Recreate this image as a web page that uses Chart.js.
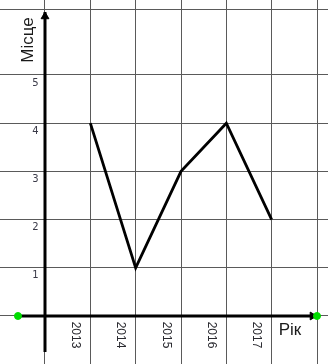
<!DOCTYPE html>
<html>
<head>
<meta charset="utf-8">
<script src="https://cdn.jsdelivr.net/npm/chart.js@4.4.1/dist/chart.umd.min.js"></script>
<style>
html,body{margin:0;padding:0;background:#fff;}
#wrap{width:328px;height:364px;}
</style>
</head>
<body>
<div id="wrap"><canvas id="c" width="328" height="364"></canvas></div>
<script>
// Data
const years = [2013, 2014, 2015, 2016, 2017];
const places = [4, 1, 3, 4, 2];
const yTickLabels = [1, 2, 3, 4, 5];
const xAxisTitle = 'Рік';
const yAxisTitle = 'Місце';

// axis geometry (in data units)
const originX = 2012;
const xGrid = [2012, 2013, 2014, 2015, 2016, 2017, 2018];
const yGrid = [0, 1, 2, 3, 4, 5, 6.35];

const lineData = years.map((y, i) => ({x: y, y: places[i]}));

const labelsPlugin = {
  id: 'labels',
  afterDraw(chart) {
    const ctx = chart.ctx;
    const xs = chart.scales.x, ys = chart.scales.y;
    const ox = xs.getPixelForValue(originX);
    const oy = ys.getPixelForValue(0);
    ctx.save();
    // y tick labels
    ctx.fillStyle = '#3a3a48';
    ctx.font = '10px "DejaVu Sans"';
    ctx.textAlign = 'center';
    ctx.textBaseline = 'middle';
    yTickLabels.forEach(v => {
      ctx.fillText(String(v), ox - 9.5, ys.getPixelForValue(v) + 8);
    });
    // x tick labels rotated clockwise
    ctx.font = '12px "Liberation Sans"';
    ctx.fillStyle = '#2a2a30';
    years.forEach(yr => {
      const px = xs.getPixelForValue(yr) - 15;
      ctx.save();
      ctx.translate(px, oy + 19);
      ctx.rotate(Math.PI / 2);
      ctx.textAlign = 'center';
      ctx.textBaseline = 'middle';
      ctx.fillText(String(yr), 0, 0);
      ctx.restore();
    });
    // axis titles
    ctx.fillStyle = '#1a1a1a';
    ctx.font = '17px "Liberation Sans"';
    ctx.save();
    ctx.translate(ox - 12, 40);
    ctx.rotate(-Math.PI / 2);
    ctx.textAlign = 'center';
    ctx.textBaseline = 'alphabetic';
    ctx.fillText(yAxisTitle, 0, 0);
    ctx.restore();
    ctx.textAlign = 'left';
    ctx.textBaseline = 'alphabetic';
    ctx.fillText(xAxisTitle, xs.getPixelForValue(2017) + 7, oy + 19);
    ctx.restore();
  }
};

new Chart(document.getElementById('c'), {
  type: 'line',
  data: {
    datasets: [
      {
        data: lineData,
        borderColor: '#000',
        borderWidth: 2.8,
        pointRadius: 0,
        tension: 0,
        fill: false,
        borderJoinStyle: 'miter'
      },
      {
        // y axis line with arrow
        data: [{x: originX, y: -0.747}, {x: originX, y: 6.214}, {x: originX, y: 6.307}],
        borderColor: '#000',
        borderWidth: 3,
        pointStyle: 'triangle',
        pointRadius: [0, 4.5, 0],
        pointBackgroundColor: '#000',
        pointBorderColor: '#000',
        pointBorderWidth: 1,
        fill: false
      },
      {
        // x axis line with arrow and end dots
        data: [{x: 2011.404, y: 0}, {x: 2017.9, y: 0}, {x: 2018, y: 0}],
        borderColor: '#000',
        borderWidth: 3,
        pointStyle: ['circle', 'triangle', 'circle'],
        rotation: [0, 90, 0],
        pointRadius: [3.5, 4.5, 3.5],
        pointBackgroundColor: ['#00dd00', '#000', '#00dd00'],
        pointBorderColor: ['#00dd00', '#000', '#00dd00'],
        pointBorderWidth: 1,
        fill: false
      }
    ]
  },
  options: {
    responsive: false,
    animation: false,
    devicePixelRatio: 1,
    layout: {padding: 0, autoPadding: false},
    plugins: {legend: {display: false}, tooltip: {enabled: false}},
    elements: {line: {borderCapStyle: 'butt'}},
    scales: {
      x: {
        type: 'linear',
        min: 2011.0074,
        max: 2018.2426,
        afterBuildTicks: s => { s.ticks = xGrid.map(v => ({value: v})); },
        ticks: {display: false},
        border: {display: false},
        grid: {color: '#5a5a5a', lineWidth: 1, drawTicks: false, tickLength: 0}
      },
      y: {
        type: 'linear',
        min: -0.996,
        max: 6.556,
        afterBuildTicks: s => { s.ticks = yGrid.map(v => ({value: v})); },
        ticks: {display: false},
        border: {display: false},
        grid: {color: '#5a5a5a', lineWidth: 1, drawTicks: false, tickLength: 0}
      }
    }
  },
  plugins: [labelsPlugin]
});
</script>
</body>
</html>
